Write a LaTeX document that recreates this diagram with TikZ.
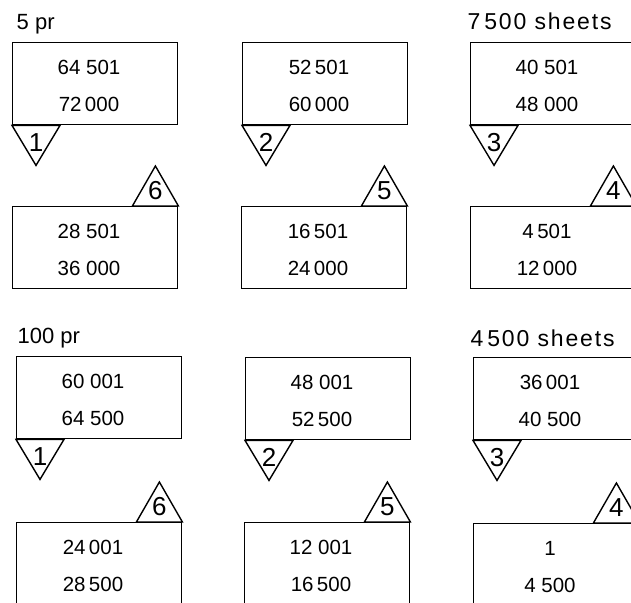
\documentclass[tikz,border=0pt]{standalone}
\usepackage{fontspec}
\setmainfont{Liberation Sans}
\newfontfamily\lblfont[LetterSpace=8]{Liberation Sans}
\newcommand\downcell[6]{%
  \node[box] (#1) at (#2,#3) {};
  \node[val] (#1a) at ([xshift=77pt,yshift=-25pt]#1.north west) {#4};
  \node[val] (#1b) at ([xshift=77pt,yshift=-62pt]#1.north west) {#5};
  \draw[tri] (#1.south west) -- ++(24,40) -- ++(24,-40) -- cycle;
  \node[tnum] (#1n) at ([xshift=24pt,yshift=-17pt]#1.south west) {#6};
}
\newcommand\upcell[6]{%
  \node[box] (#1) at (#2,#3) {};
  \node[val] (#1a) at ([xshift=77pt,yshift=-25pt]#1.north west) {#4};
  \node[val] (#1b) at ([xshift=77pt,yshift=-62pt]#1.north west) {#5};
  \draw[tri] (#1.north east) -- ++(-23,-40) -- ++(-23,40) -- cycle;
  \node[tnum] (#1n) at ([xshift=-23pt,yshift=15pt]#1.north east) {#6};
}
\begin{document}
\begin{tikzpicture}[x=1pt,y=-1pt, line width=1.4pt,
  box/.style={draw, rectangle, minimum width=165pt, minimum height=82pt, inner sep=0pt, anchor=north west},
  tri/.style={line join=miter},
  val/.style={font=\fontsize{20.5}{24}\selectfont, inner sep=0pt},
  tnum/.style={font=\fontsize{26}{30}\selectfont, inner sep=0pt},
  lbl/.style={font=\fontsize{22}{26}\selectfont, anchor=base west, inner sep=0pt},
  sheetlbl/.style={font=\lblfont\fontsize{23}{27}\selectfont, anchor=base west, inner sep=0pt}]
\useasboundingbox (0,0) rectangle (631,602);
\clip (0,0) rectangle (631,602);
\fill[white] (0,0) rectangle (631,602);

\node[lbl] (l1) at (16,29.5) {5 pr};
\node[sheetlbl] (l2) at (467,29.5) {7\,500 sheets};
\node[lbl] (l3) at (17,343) {100 pr};
\node[sheetlbl] (l4) at (470,346.5) {4\,500 sheets};

\downcell{c11}{12}{42}{64 501}{72\,000}{1}
\downcell{c12}{242}{42}{52\,501}{60\,000}{2}
\downcell{c13}{470}{42}{40 501}{48 000}{3}

\upcell{c21}{12}{206}{28 501}{36 000}{6}
\upcell{c22}{241}{206}{16\,501}{24\,000}{5}
\upcell{c23}{470}{206}{4\,501}{12\,000}{4}

\downcell{c31}{16}{356}{60 001}{64 500}{1}
\downcell{c32}{245}{357}{48 001}{52\,500}{2}
\downcell{c33}{473}{357}{36\,001}{40 500}{3}

\upcell{c41}{16}{522}{24\,001}{28\,500}{6}
\upcell{c42}{244}{522}{12 001}{16\,500}{5}
\upcell{c43}{473}{523}{1}{4 500}{4}
\end{tikzpicture}
\end{document}
